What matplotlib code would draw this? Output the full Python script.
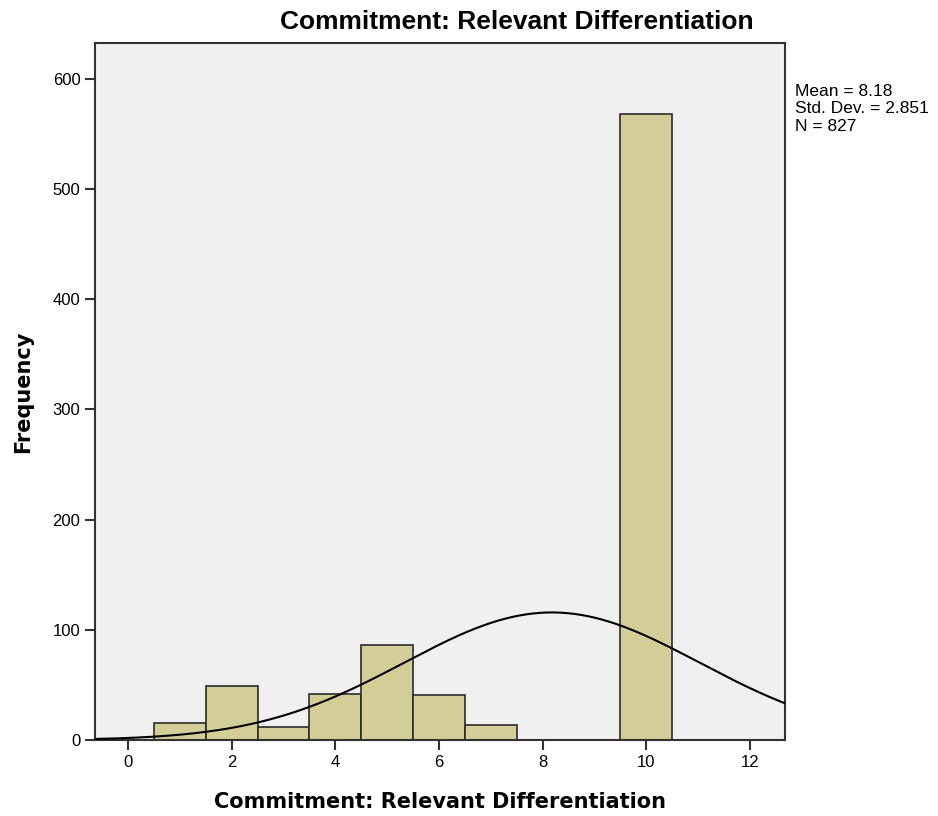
import numpy as np
import matplotlib
matplotlib.use("Agg")
import matplotlib.pyplot as plt

# histogram of scores (bin centers, counts)
scores = [1, 2, 3, 4, 5, 6, 7, 8, 9, 10]
counts = [15, 49, 12, 42, 86, 41, 14, 0, 0, 568]
mean = 8.18
std_dev = 2.851
n_total = 827
bin_width = 1.0

fig = plt.figure(figsize=(9.38, 8.16), dpi=100)
ax = fig.add_axes([0.1013, 0.0931, 0.7356, 0.8539])
ax.set_facecolor('#f0f0f0')

ax.bar(scores, counts, width=bin_width, color='#d3ce97', edgecolor='#2b2b2b', linewidth=1.2, zorder=2)

xs = np.linspace(-0.64, 12.68, 400)
pdf = n_total * bin_width / (std_dev * np.sqrt(2 * np.pi)) * np.exp(-0.5 * ((xs - mean) / std_dev) ** 2)
ax.plot(xs, pdf, color='black', linewidth=1.5, zorder=3)

ax.set_xlim(-0.64, 12.68)
ax.set_ylim(0, 632)
ax.set_xticks([0, 2, 4, 6, 8, 10, 12])
ax.set_yticks([0, 100, 200, 300, 400, 500, 600])
ax.tick_params(direction='out', length=7, width=1.5, color='#333333', labelsize=12)
for lab in ax.get_xticklabels() + ax.get_yticklabels():
    lab.set_family('Liberation Sans')
for s in ax.spines.values():
    s.set_color('#333333')
    s.set_linewidth(1.5)

ax.set_xlabel('Commitment: Relevant Differentiation', fontsize=15, fontweight='bold',
              family='DejaVu Sans', labelpad=16)
ax.set_ylabel('Frequency', fontsize=15, fontweight='bold', family='DejaVu Sans', labelpad=14)

fig.text(0.551, 0.973, 'Commitment: Relevant Differentiation', ha='center', va='center',
         fontsize=19, fontweight='bold', family='Liberation Sans')
fig.text(0.848, 0.897, 'Mean = %.2f\nStd. Dev. = %.3f\nN = %d' % (mean, std_dev, n_total),
         ha='left', va='top', fontsize=12.5, family='Liberation Sans', linespacing=1.2)

fig.savefig('out.png', dpi=100)
